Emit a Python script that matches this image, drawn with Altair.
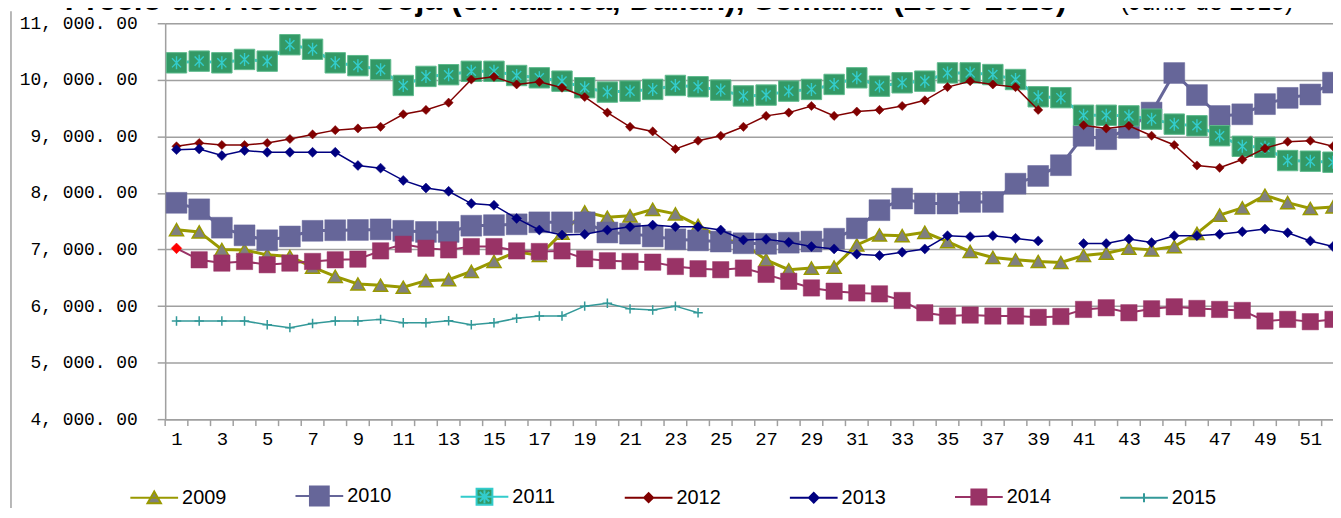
import altair as alt
import pandas as pd

WEEKS = list(range(1, 53))
SERIES = ["2009", "2010", "2011", "2012", "2013", "2014", "2015"]

V2009 = [7350, 7310, 7000, 6990, 6905, 6876, 6689, 6525, 6390, 6367, 6332, 6449, 6466,
         6613, 6790, 6960, 6895, 7290, 7665, 7570, 7595, 7710, 7630, 7425, 7200, 7100,
         6817, 6642, 6671, 6689, 7080, 7256, 7244, 7303, 7139, 6964, 6859, 6817, 6788,
         6770, 6893, 6934, 7022, 6993, 7051, 7285, 7607, 7736, 7958, 7829, 7724, 7753]
V2010 = [7825, 7710, 7385, 7250, 7163, 7230, 7330, 7340, 7345, 7355, 7330, 7310, 7310,
         7420, 7430, 7445, 7480, 7480, 7480, 7300, 7280, 7230, 7180, 7160, 7140, 7110,
         7100, 7120, 7140, 7190, 7373, 7695, 7900, 7812, 7812, 7841, 7841, 8163, 8300,
         8490, 9010, 8950, 9150, 9420, 10120, 9730, 9360, 9390, 9570, 9680, 9740, 9950]
V2011 = [10300, 10330, 10300, 10360, 10330, 10620, 10540, 10300, 10250, 10180, 9900, 10060, 10090,
         10150, 10150, 10076, 10035, 9976, 9860, 9783, 9800, 9830, 9900, 9877, 9818, 9715,
         9730, 9800, 9830, 9918, 10035, 9888, 9947, 9976, 10122, 10122, 10093, 10005, 9700,
         9684, 9373, 9373, 9362, 9304, 9216, 9187, 9011, 8824, 8806, 8572, 8561, 8543]
V2012 = [8824, 8882, 8847, 8847, 8882, 8953, 9034, 9110, 9140, 9169, 9391, 9467, 9596,
         10005, 10052, 9918, 9964, 9860, 9696, 9420, 9169, 9087, 8777, 8923, 9011, 9169,
         9362, 9420, 9537, 9362, 9438, 9467, 9537, 9637, 9871, 9976, 9918, 9871, 9467,
         None, 9198, 9140, 9187, 9011, 8847, 8485, 8444, 8590, 8789, 8906, 8923, 8824]
V2013 = [8765, 8777, 8660, 8748, 8718, 8718, 8718, 8718, 8485, 8438, 8221, 8087, 8028,
         7812, 7783, 7549, 7344, 7256, 7268, 7344, 7402, 7431, 7402, 7402, 7344, 7168,
         7180, 7127, 7051, 7010, 6917, 6893, 6952, 7010, 7244, 7227, 7244, 7197, 7151,
         None, 7104, 7104, 7186, 7122, 7244, 7244, 7268, 7314, 7361, 7297, 7151, 7051]
V2014 = [7020, 6817, 6759, 6788, 6730, 6759, 6788, 6817, 6829, 6975, 7092, 7022, 6993,
         7051, 7051, 6975, 6964, 6975, 6835, 6800, 6788, 6776, 6700, 6659, 6642, 6671,
         6560, 6437, 6320, 6262, 6232, 6215, 6098, 5881, 5823, 5840, 5823, 5823, 5800,
         5815, 5940, 5969, 5881, 5951, 5986, 5957, 5940, 5922, 5735, 5764, 5723, 5764]
V2015 = [5735, 5735, 5735, 5735, 5670, 5618, 5690, 5735, 5735, 5764, 5706, 5706, 5740,
         5670, 5706, 5782, 5823, 5823, 5998, 6050, 5950, 5930, 5998, 5881]

Y_TICKS = [4000, 5000, 6000, 7000, 8000, 9000, 10000, 11000]
X_LABEL_WEEKS = [w for w in WEEKS if w % 2 == 1]
TITLE_MAIN = "Precio del Aceite de Soja (en fábrica, Dalian), Semanal (2009-2015)"
TITLE_DATE = "(Junio de 2015)"

VALUES = dict(zip(SERIES, [V2009, V2010, V2011, V2012, V2013, V2014, V2015]))

LINE_COLORS = ["#999900", "#666699", "#33cccc", "#800000", "#000080", "#993366", "#339999"]
LINE_WIDTHS = [3, 3, 3, 1.5, 1.5, 2, 1.5]

rows = []
for s in SERIES:
    for w, v in zip(WEEKS, VALUES[s]):
        rows.append({"week": w, "series": s, "value": v})
df = pd.DataFrame(rows)
weeks_df = pd.DataFrame({"week": WEEKS})
series_df = pd.DataFrame({"series": SERIES})

GRID = "#a0a0a0"
MONO = "Liberation Mono"

x_scale = alt.Scale(domain=[0.5, 52.0], nice=False, zero=False)
x_axis = alt.Axis(
    values=X_LABEL_WEEKS, format="d",
    labelFont=MONO, labelFontSize=19, labelColor="black",
    labelOverlap=False, labelFlush=False, labelBound=False, labelPadding=10,
    ticks=False, domainColor=GRID, domainWidth=1.5,
    grid=False, title=None,
)
y_axis = alt.Axis(
    values=Y_TICKS,
    labelExpr="replace(replace(format(datum.value, ',.2f'), ',', ', '), '.', '. ')",
    labelFont=MONO, labelFontSize=18, labelColor="black", labelPadding=20,
    tickSize=8, tickColor=GRID, tickWidth=1.5, domainColor=GRID, domainWidth=1.5,
    grid=True, gridColor=GRID, gridWidth=1.5, title=None,
)
x_enc = alt.X("week:Q", scale=x_scale, axis=x_axis)
y_enc = alt.Y("value:Q", scale=alt.Scale(domain=[4000, 11000], nice=False, zero=False), axis=y_axis)

# legend symbols: a short line with the series marker (unit = 15 px)
LEG_SHAPES = [
    "M-1.6,0H1.6M0,-0.42L0.45,0.37L-0.45,0.37Z",
    "M-1.6,0H1.6M-0.63,-0.63H0.63V0.63H-0.63Z",
    "M-1.6,0H1.6M-0.53,-0.53H0.53V0.53H-0.53ZM0,-0.43V0.43M-0.32,-0.32L0.32,0.32M-0.32,0.32L0.32,-0.32",
    "M-1.6,0H1.6M-0.3,0L0,-0.3L0.3,0L0,0.3Z",
    "M-1.6,0H1.6M-0.32,0L0,-0.32L0.32,0L0,0.32Z",
    "M-1.6,0H1.6M-0.5,-0.5H0.5V0.5H-0.5Z",
    "M-1.6,0H1.6M0,-0.3V0.3",
]
LEG_FILL = ["#808080", "#666699", "#339966", "#800000", "#000080", "#993366", "transparent"]
LEG_STROKE = LINE_COLORS

legend = alt.Legend(
    orient="none", legendX=-27, legendY=459, direction="horizontal", columns=7,
    title=None, padding=0, symbolSize=900, symbolStrokeWidth=2,
    labelFont="Liberation Sans", labelFontSize=20, labelColor="black",
    labelOffset=12, columnPadding=65,
)

base = alt.Chart(df).encode(x=x_enc, y=y_enc)


def only(s):
    return base.transform_filter(alt.datum.series == s)


def line(i):
    return only(SERIES[i]).mark_line(
        color=LINE_COLORS[i], strokeWidth=LINE_WIDTHS[i], invalid="break-paths-show-domains")


def pts(s, **kw):
    kw.setdefault("opacity", 1)
    return only(s).mark_point(**kw)


layers = []
layers += [line(0), pts("2009", shape="triangle-up", size=200, filled=True, fill="#808080",
                        stroke="#999900", strokeWidth=1.5)]
layers += [line(1), pts("2010", shape="square", size=440, filled=True, fill="#666699",
                        stroke="#666699", strokeWidth=0.5)]
layers += [line(2),
           pts("2011", shape="square", size=420, filled=True, fill="#339966",
               stroke="#5fb98c", strokeWidth=1),
           pts("2011", shape="M0,-1V1M-0.7,-0.7L0.7,0.7M-0.7,0.7L0.7,-0.7", size=170,
               filled=False, color="#33cccc", strokeWidth=1.4)]
layers += [line(3), pts("2012", shape="diamond", size=85, filled=True, fill="#800000",
                        stroke="#800000", strokeWidth=0.5)]
layers += [line(4), pts("2013", shape="diamond", size=100, filled=True, fill="#000080",
                        stroke="#000080", strokeWidth=0.5)]
layers += [line(5),
           only("2014").transform_filter(alt.datum.week > 1).mark_point(
               shape="square", size=270, filled=True, fill="#993366", stroke="#993366",
               strokeWidth=0.5, opacity=1),
           only("2014").transform_filter(alt.datum.week == 1).mark_point(
               shape="diamond", size=115, filled=True, fill="#ff0000", stroke="#ff0000",
               strokeWidth=0.5, opacity=1)]
layers += [line(6), pts("2015", shape="M-1,0H1M0,-1V1", size=90, filled=False,
                        color="#339999", strokeWidth=1.5)]

# x-axis ticks at the week boundaries
ticks = alt.Chart(weeks_df).transform_calculate(edge="datum.week - 0.5").mark_rule(
    color=GRID, strokeWidth=1.5).encode(
    x=alt.X("edge:Q", scale=x_scale, axis=x_axis), y=alt.value(398), y2=alt.value(405))

# legend carrier (draws no marks; the legend comes from its scales)
leg_layer = alt.Chart(series_df).transform_filter("false").mark_point(
    filled=True, opacity=1, size=900).encode(
    shape=alt.Shape("series:N", scale=alt.Scale(domain=SERIES, range=LEG_SHAPES), legend=legend),
    fill=alt.Fill("series:N", scale=alt.Scale(domain=SERIES, range=LEG_FILL), legend=legend),
    stroke=alt.Stroke("series:N", scale=alt.Scale(domain=SERIES, range=LEG_STROKE), legend=legend),
)

frame = alt.Chart(pd.DataFrame({"k": [0]})).mark_rule(color=GRID, strokeWidth=1.5).encode(
    x=alt.value(-155), y=alt.value(-12), y2=alt.value(496))
title_main = alt.Chart(pd.DataFrame({"t": [TITLE_MAIN]})).mark_text(
    font="Liberation Sans", fontSize=32, fontWeight="bold", align="left",
    baseline="alphabetic", color="black").encode(
    text="t:N", x=alt.value(-101), y=alt.value(-13))
title_date = alt.Chart(pd.DataFrame({"t": [TITLE_DATE]})).mark_text(
    font="Liberation Sans", fontSize=25, align="right",
    baseline="alphabetic", color="black").encode(
    text="t:N", x=alt.value(1134), y=alt.value(-13))

chart = alt.layer(*layers, ticks, leg_layer, frame, title_main, title_date).properties(
    width=1174, height=398,
    autosize=alt.AutoSizeParams(type="none"),
    padding={"left": 158, "top": 14, "right": 0, "bottom": 88},
).configure_view(strokeWidth=0).configure(background="white")

chart.save("out.html", embed_options={"renderer": "svg", "actions": False})
